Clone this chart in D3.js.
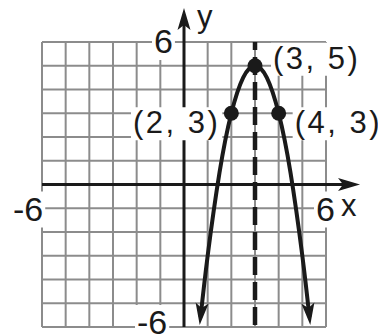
<!DOCTYPE html>
<html>
<head>
<meta charset="utf-8">
<script src="https://cdn.jsdelivr.net/npm/d3@7"></script>
<style>
  html, body { margin: 0; padding: 0; background: #ffffff; }
  svg { display: block; font-family: "Liberation Sans", Arial, Helvetica, sans-serif; }
</style>
</head>
<body>
<figure style="margin:0"></figure>
<script>
// grid ticks, -6..6 on both axes
const ticks = [-6, -5, -4, -3, -2, -1, 0, 1, 2, 3, 4, 5, 6];

// y = -2(x - 3)^2 + 5
const curveX = [0.7, 1, 1.5, 2, 2.5, 3, 3.5, 4, 4.5, 5, 5.3];
const curveY = [-5.58, -3, 0.5, 3, 4.5, 5, 4.5, 3, 0.5, -3, -5.58];

// labelled points
const pointX = [2, 3, 4];
const pointY = [3, 5, 3];
const pointLabels = ["(2, 3)", "(3, 5)", "(4, 3)"];

// axis of symmetry
const symmetryX = 3;

// axis tick labels
const tickLabels = ["-6", "6", "-6", "6"];
const axisNames = ["x", "y"];

const width = 378;
const height = 334;

const draw = () => {
  const svg = d3
    .select("figure")
    .append("svg")
    .attr("width", width)
    .attr("height", height);

  const x = d3.scaleLinear().domain([-6, 6]).range([42, 326]);
  const y = d3.scaleLinear().domain([-6, 6]).range([327, 42]);

  const ink = "#1a1a1a";

  const defs = svg.append("defs");
  defs
    .append("marker")
    .attr("id", "arrow")
    .attr("markerUnits", "userSpaceOnUse")
    .attr("viewBox", "-20 -8 30 16")
    .attr("refX", 0)
    .attr("refY", 0)
    .attr("markerWidth", 30)
    .attr("markerHeight", 16)
    .attr("orient", "auto-start-reverse")
    .append("path")
    .attr("d", "M8,0 L-14,-6.5 L-9,0 L-14,6.5 Z")
    .attr("fill", ink);

  // grid
  const grid = svg.append("g").attr("stroke", "#8c8c8c").attr("stroke-width", 2);
  grid
    .selectAll("line.v")
    .data(ticks)
    .enter()
    .append("line")
    .attr("class", "v")
    .attr("x1", (d) => x(d))
    .attr("x2", (d) => x(d))
    .attr("y1", y(6))
    .attr("y2", y(-6));
  grid
    .selectAll("line.h")
    .data(ticks)
    .enter()
    .append("line")
    .attr("class", "h")
    .attr("y1", (d) => y(d))
    .attr("y2", (d) => y(d))
    .attr("x1", x(-6))
    .attr("x2", x(6));

  // axes
  svg
    .append("line")
    .attr("x1", x(-6))
    .attr("x2", x(7.1))
    .attr("y1", y(0))
    .attr("y2", y(0))
    .attr("stroke", ink)
    .attr("stroke-width", 3)
    .attr("marker-end", "url(#arrow)");
  svg
    .append("line")
    .attr("x1", x(0))
    .attr("x2", x(0))
    .attr("y1", y(-6))
    .attr("y2", y(7.1))
    .attr("stroke", ink)
    .attr("stroke-width", 3)
    .attr("marker-end", "url(#arrow)");

  // dashed axis of symmetry
  svg
    .append("line")
    .attr("x1", x(symmetryX))
    .attr("x2", x(symmetryX))
    .attr("y1", y(6))
    .attr("y2", y(-6))
    .attr("stroke", ink)
    .attr("stroke-width", 4.5)
    .attr("stroke-dasharray", "18,7")
    .attr("stroke-dashoffset", 10);

  // text specs: [text, x, y, size, anchor]
  const labelSpecs = [
    { t: tickLabels[0], x: 13, y: y(0) + 36, fs: 34, ls: 0 },
    { t: tickLabels[1], x: x(6) - 10, y: y(0) + 36, fs: 34, ls: 0 },
    { t: tickLabels[2], x: x(0) - 47, y: y(-6) + 7, fs: 34, ls: 0 },
    { t: tickLabels[3], x: x(0) - 30, y: y(6) + 11, fs: 34, ls: 0 },
    { t: axisNames[0], x: x(6) + 15, y: y(0) + 31, fs: 31, ls: 0, nobox: true },
    { t: axisNames[1], x: x(0) + 13, y: 27, fs: 31, ls: 0, nobox: true },
  ];
  const offsets = [
    [-11, 20, "end"],
    [18, 3, "start"],
    [16, 20, "start"],
  ];
  pointX.forEach((px, i) => {
    labelSpecs.push({
      t: pointLabels[i],
      x: x(px) + offsets[i][0],
      y: y(pointY[i]) + offsets[i][1],
      fs: 31,
      ls: 2.5,
      anchor: offsets[i][2],
    });
  });

  const boxLayer = svg.append("g");
  const markLayer = svg.append("g");
  const textLayer = svg.append("g");

  labelSpecs.forEach((s) => {
    const tx = textLayer
      .append("text")
      .attr("x", s.x)
      .attr("y", s.y)
      .attr("font-size", s.fs)
      .attr("letter-spacing", s.ls)
      .attr("fill", ink)
      .attr("text-anchor", s.anchor || "start")
      .text(s.t);
    if (!s.nobox) {
      const b = tx.node().getBBox();
      boxLayer
        .append("rect")
        .attr("x", b.x - 2)
        .attr("y", b.y + 2)
        .attr("width", b.width + 4)
        .attr("height", b.height - 2)
        .attr("fill", "#ffffff");
    }
  });

  // parabola
  const line = d3
    .line()
    .x((d) => x(d[0]))
    .y((d) => y(d[1]))
    .curve(d3.curveNatural);

  markLayer
    .append("path")
    .datum(curveX.map((d, i) => [d, curveY[i]]))
    .attr("d", line)
    .attr("fill", "none")
    .attr("stroke", ink)
    .attr("stroke-width", 4)
    .attr("marker-start", "url(#arrow)")
    .attr("marker-end", "url(#arrow)");

  markLayer
    .selectAll("circle")
    .data(pointX)
    .enter()
    .append("circle")
    .attr("cx", (d) => x(d))
    .attr("cy", (d, i) => y(pointY[i]))
    .attr("r", 7.5)
    .attr("fill", ink);
};

window.onload = () => {
  draw();
};
</script>
</body>
</html>
